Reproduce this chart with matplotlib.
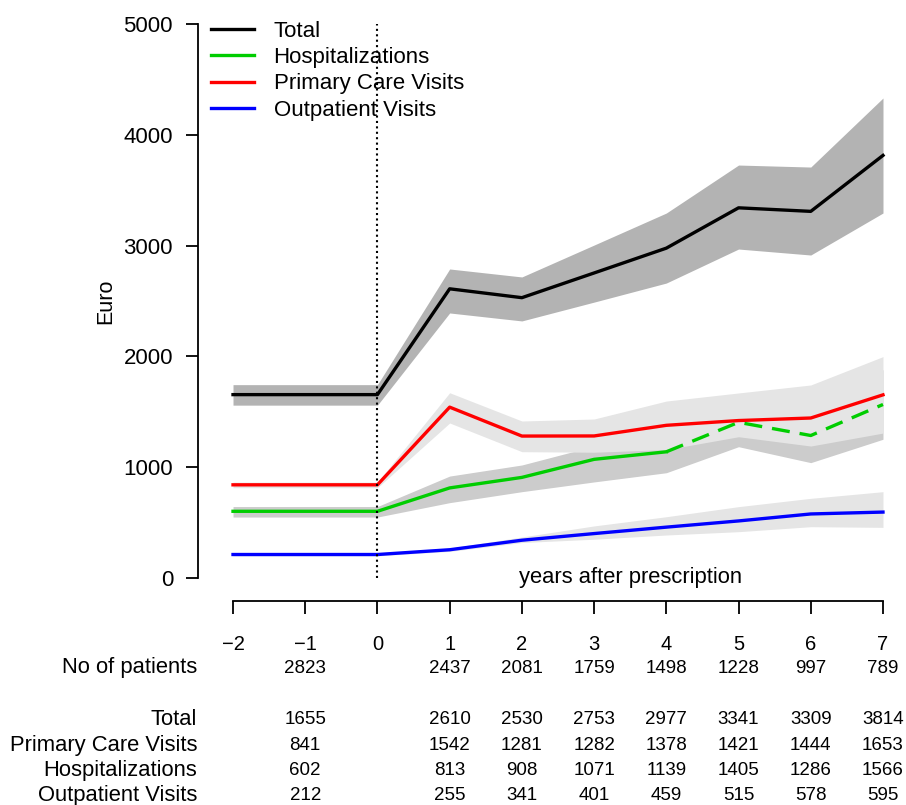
import matplotlib
matplotlib.use("Agg")
import matplotlib.pyplot as plt
from matplotlib.transforms import blended_transform_factory

plt.rcParams['font.family'] = ['Liberation Sans', 'DejaVu Sans']

# x positions of the drawn series: pre period (-2..0) then years 1..7
x_pts = [-2, 0, 1, 2, 3, 4, 5, 6, 7]

total = [1655, 1655, 2610, 2530, 2753, 2977, 3341, 3309, 3814]
total_lo = [1560, 1560, 2392, 2320, 2490, 2662, 2969, 2915, 3294]
total_hi = [1745, 1745, 2789, 2717, 3005, 3294, 3727, 3709, 4332]

primary = [841, 841, 1542, 1281, 1282, 1378, 1421, 1444, 1653]
primary_lo = [815, 815, 1399, 1140, 1135, 1159, 1275, 1191, 1308]
primary_hi = [865, 865, 1672, 1417, 1435, 1597, 1670, 1742, 1998]

hosp = [602, 602, 813, 908, 1071, 1139, 1405, 1286, 1566]
hosp_lo = [550, 550, 680, 779, 867, 950, 1185, 1041, 1252]
hosp_hi = [645, 645, 920, 1020, 1190, 1328, 1625, 1531, 1880]

outpat = [212, 212, 255, 341, 401, 459, 515, 578, 595]
outpat_lo = [200, 200, 240, 320, 350, 388, 418, 463, 457]
outpat_hi = [225, 225, 270, 370, 470, 553, 644, 719, 779]

# table below the chart
tick_years = [-2, -1, 0, 1, 2, 3, 4, 5, 6, 7]
table_x = [-1, 1, 2, 3, 4, 5, 6, 7]
n_patients = [2823, 2437, 2081, 1759, 1498, 1228, 997, 789]
row_names = ["Total", "Primary Care Visits", "Hospitalizations", "Outpatient Visits"]
row_values = [
    [1655, 2610, 2530, 2753, 2977, 3341, 3309, 3814],
    [841, 1542, 1281, 1282, 1378, 1421, 1444, 1653],
    [602, 813, 908, 1071, 1139, 1405, 1286, 1566],
    [212, 255, 341, 401, 459, 515, 578, 595],
]

W, H = 906, 805
fig = plt.figure(figsize=(W / 100, H / 100), dpi=100)

# main plot area, pixel layout
ax = fig.add_axes([198 / W, (H - 578) / H, (901 - 198) / W, (578 - 24) / H])
ax.set_xlim(-2 - 35 / 72.2, 7 + 18 / 72.2)
ax.set_ylim(0, 5000)

ax.fill_between(x_pts, total_lo, total_hi, color='#b3b3b3', lw=0, zorder=1)
ax.fill_between(x_pts, hosp_lo, hosp_hi, color='#cccccc', lw=0, zorder=1.1)
ax.fill_between(x_pts, primary_lo, primary_hi, color='#e5e5e5', lw=0, zorder=1.2)
ax.fill_between(x_pts, outpat_lo, outpat_hi, color='#e5e5e5', lw=0, zorder=1.3)

lw = 2.4
ax.plot(x_pts, total, color='black', lw=lw, zorder=3, label='Total')
# hospitalizations: solid up to year 4, dashed afterwards
ax.plot(x_pts[:6], hosp[:6], color='#00cd00', lw=lw, zorder=3, label='Hospitalizations')
ax.plot(x_pts[5:], hosp[5:], color='#00cd00', lw=lw, zorder=3, dashes=(5.4, 3.0))
ax.plot(x_pts, primary, color='#ff0000', lw=lw, zorder=3, label='Primary Care Visits')
ax.plot(x_pts, outpat, color='#0000ff', lw=lw, zorder=3, label='Outpatient Visits')

ax.axvline(0, color='black', lw=1.5, ls=(0, (1, 1.6)), zorder=4)

for s in ['top', 'right', 'bottom']:
    ax.spines[s].set_visible(False)
ax.spines['left'].set_linewidth(1.3)
ax.set_yticks([0, 1000, 2000, 3000, 4000, 5000])
ax.tick_params(axis='y', length=9, width=1.3, labelsize=16, pad=9)
ax.set_xticks([])
ax.set_ylabel('Euro', fontsize=15.5, labelpad=5)

ax.text(3.5, 0, 'years after prescription', fontsize=15.8, ha='center', va='center')

ax.legend(loc='upper left', bbox_to_anchor=(0.0, 1.03), frameon=False, fontsize=16,
          handlelength=1.9, handletextpad=0.9, labelspacing=0.24, borderaxespad=0.2)

# separate x axis below the plot
ax2 = fig.add_axes([198 / W, (H - 601) / H, (901 - 198) / W, 0.0001])
ax2.set_xlim(ax.get_xlim())
ax2.set_yticks([])
for s in ['top', 'left', 'right']:
    ax2.spines[s].set_visible(False)
ax2.spines['bottom'].set_bounds(-2, 7)
ax2.spines['bottom'].set_linewidth(1.3)
ax2.set_xticks(tick_years)
ax2.set_xticklabels([str(t).replace('-', '\u2212') for t in tick_years])
ax2.tick_params(axis='x', direction='out', length=9.4, width=1.3, labelsize=14.5, pad=15)

tr = blended_transform_factory(ax2.transData, fig.transFigure)
label_x = 197 / W

def fy(px):
    return (H - px) / H

fig.text(label_x, fy(667), 'No of patients', fontsize=15.8, ha='right', va='center')
for xv, n in zip(table_x, n_patients):
    ax2.text(xv, fy(668), str(n), fontsize=13.5, ha='center', va='center', transform=tr)

row_y = [719, 745, 770, 795]
for name, vals, yy in zip(row_names, row_values, row_y):
    fig.text(label_x, fy(yy), name, fontsize=15.8, ha='right', va='center')
    for xv, v in zip(table_x, vals):
        ax2.text(xv, fy(yy), str(v), fontsize=13.5, ha='center', va='center', transform=tr)

fig.savefig('out.png', dpi=100)
